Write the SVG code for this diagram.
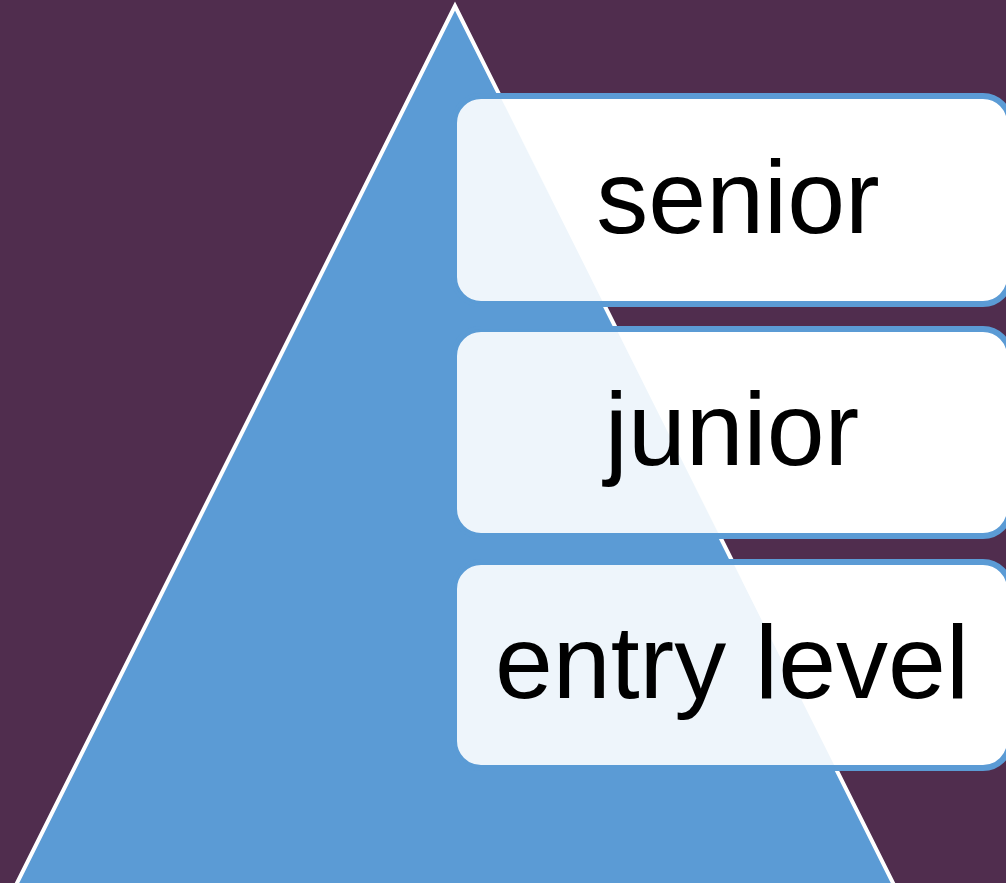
<svg xmlns="http://www.w3.org/2000/svg" width="1006" height="883" viewBox="0 0 1006 883">
  <style>
    .box { fill: #FFFFFF; stroke: #5B9BD5; stroke-width: 6; }
    .label { font-family: "Liberation Sans", Arial, sans-serif; font-size: 104px; fill: #000000; text-anchor: middle; }
    .tint { fill: #5B9BD5; fill-opacity: 0.1; }
  </style>
  <defs>
    <clipPath id="boxClip">
      <rect x="454" y="96" width="556" height="208" rx="27"/>
      <rect x="454" y="329" width="556" height="207" rx="27"/>
      <rect x="454" y="562" width="556" height="206" rx="27"/>
    </clipPath>
  </defs>
  <rect id="background" x="0" y="0" width="1006" height="883" fill="#502D4E"/>
  <g id="pyramid">
    <polygon points="455,6 13.5,890 896.5,890" fill="#5B9BD5" stroke="#FFFFFF" stroke-width="4" stroke-linejoin="miter"/>
  </g>
  <g id="connectors"></g>
  <g id="senior">
    <rect class="box" x="454" y="96" width="556" height="208" rx="27"/>
  </g>
  <g id="junior">
    <rect class="box" x="454" y="329" width="556" height="207" rx="27"/>
  </g>
  <g id="entry-level">
    <rect class="box" x="454" y="562" width="556" height="206" rx="27"/>
  </g>
  <g id="tint" clip-path="url(#boxClip)">
    <polygon class="tint" points="455,6 13.5,890 896.5,890"/>
  </g>
  <g id="labels">
    <text class="label" x="738" y="233">senior</text>
    <text class="label" x="732" y="465">junior</text>
    <text class="label" x="732" y="698">entry level</text>
  </g>
</svg>
